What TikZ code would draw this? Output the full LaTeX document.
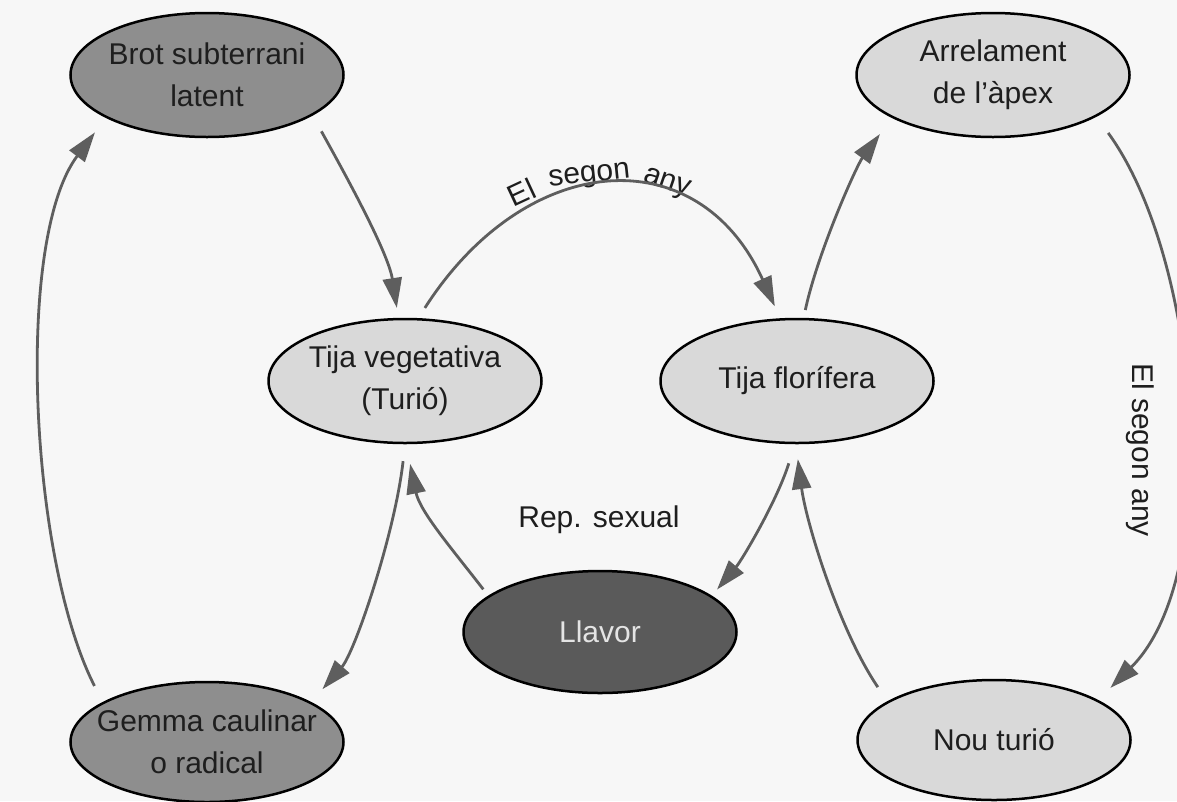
\documentclass[tikz,border=0pt]{standalone}
\usepackage{fontspec}
\setmainfont{Liberation Sans}
\usetikzlibrary{shapes.geometric,arrows.meta}
\definecolor{bgcol}{HTML}{F7F7F7}
\definecolor{darkfill}{HTML}{8E8E8E}
\definecolor{lightfill}{HTML}{D9D9D9}
\definecolor{seedfill}{HTML}{5A5A5A}
\definecolor{linecol}{HTML}{5E5E5E}
\definecolor{txtcol}{HTML}{1E1E1E}
\definecolor{seedtxt}{HTML}{E4E4E4}
\newcommand{\lblfont}{\fontsize{30}{42}\selectfont}
\begin{document}
\begin{tikzpicture}[x=1pt,y=-1pt,
  stage/.style={ellipse, draw=black, line width=2.5pt, minimum width=273pt,
    minimum height=124pt, inner sep=-15pt, align=center, font=\lblfont, text=txtcol},
  darkstage/.style={stage, fill=darkfill},
  lightstage/.style={stage, fill=lightfill},
  seedstage/.style={stage, fill=seedfill, text=seedtxt, minimum height=122pt},
  conn/.style={draw=linecol, line width=2.8pt, -{Triangle[length=30pt,width=19pt]}},
  lbl/.style={font=\lblfont, text=txtcol, inner sep=0pt},
  arcword/.style={lbl, anchor=base}]
\useasboundingbox (0,0) rectangle (1177,801);
\fill[bgcol] (0,0) rectangle (1177,801);

\node[darkstage]  (brot) at (207,75)  {Brot subterrani\\latent};
\node[lightstage] (arr)  at (993,75)  {Arrelament\\de l’àpex};
\node[lightstage] (tv)   at (405,381) {Tija vegetativa\\(Turió)};
\node[lightstage] (tf)   at (797,381) {Tija florífera};
\node[seedstage]  (llv)  at (600,632) {Llavor};
\node[darkstage, minimum height=120pt] (gem) at (207,742) {Gemma caulinar\\o radical};
\node[lightstage, minimum height=120pt] (nou) at (994,740) {Nou turió};

\node[lbl] (rep) at (599,520) {Rep. sexual};
\node[lbl, rotate=-90] (seg2) at (1140,450) {El segon any};

% curved label over the top arc
\node[arcword, rotate=25] (segA) at (526,202) {El};
\node[arcword, rotate=6]  (segB) at (590,182) {segon};
\node[arcword, rotate=-19] (segC) at (665,189) {any};

% left outer arc
\draw[conn, shorten <=18pt, shorten >=18pt] (gem.159) .. controls (30,560) and (14,240) .. (brot.203);
% brot -> tija vegetativa
\draw[conn, shorten <=18pt, shorten >=10pt] (brot.-21) .. controls (340,165) and (388,251) .. (tv.96);
% tija vegetativa -> tija florifera (arc)
\draw[conn, shorten <=12pt, shorten >=13pt] (tv.78) .. controls (526,150) and (698,137) .. (tf.105);
% tija florifera -> arrelament
\draw[conn, shorten <=8pt, shorten >=20pt] (tf.84) .. controls (818,251) and (857,165) .. (arr.203);
% right outer arc
\draw[conn, shorten <=20pt, shorten >=17pt] (arr.-22) .. controls (1200,259) and (1225,574) .. (nou.21);
% nou turio -> tija florifera
\draw[conn, shorten <=17pt, shorten >=15pt] (nou.160) .. controls (839,630) and (806,522) .. (tf.-91);
% tija florifera -> llavor
\draw[conn, shorten <=20pt, shorten >=8pt] (tf.-92) .. controls (777,501) and (742,560) .. (llv.18);
% llavor -> tija vegetativa
\draw[conn, shorten <=8pt, shorten >=20pt] (llv.162) .. controls (453,550) and (420,512) .. (tv.-89);
% tija vegetativa -> gemma
\draw[conn, shorten <=17pt, shorten >=17pt] (tv.-90) .. controls (395,533) and (355,652) .. (gem.21);
\end{tikzpicture}
\end{document}
